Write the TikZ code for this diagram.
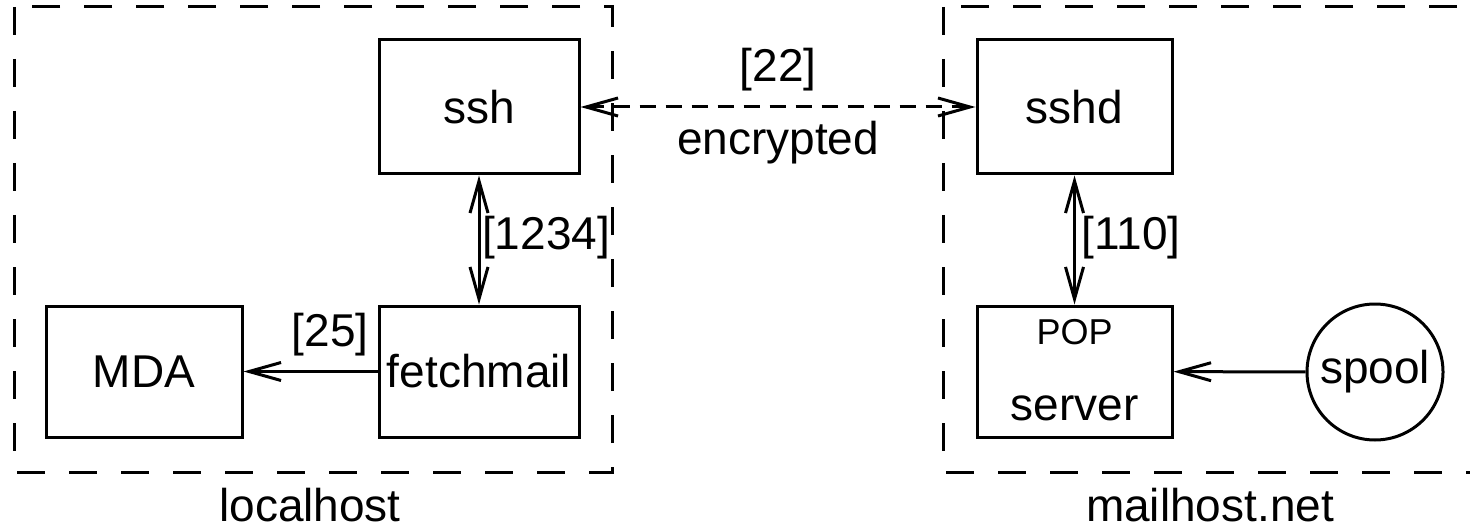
\documentclass[tikz,border=0pt]{standalone}
\usepackage{fontspec}
\setmainfont{Liberation Sans}
\usetikzlibrary{arrows.meta}
\tikzset{
  tip/.tip={Straight Barb[length=16pt,width=9pt,line width=1.5pt]},
  box/.style={draw, line width=1.5pt, rectangle, inner sep=0pt, font=\fontsize{23}{27}\selectfont},
  group/.style={draw, line width=1.5pt, dash pattern=on 14pt off 12pt},
  conn/.style={line width=1.5pt, tip-tip},
  conn1/.style={line width=1.5pt, -tip},
  lbl/.style={inner sep=0pt, font=\fontsize{23}{27}\selectfont},
  small/.style={inner sep=0pt, font=\fontsize{18}{22}\selectfont},
}
\begin{document}
\begin{tikzpicture}[x=0.5pt,y=-0.5pt]
\useasboundingbox (0,0) rectangle (1470,529);
\clip (0,0) rectangle (1470,529);
% group frames
\draw[group] (14,7) rectangle (612,472);
\draw[group] (943,7) rectangle (1541,472);
% nodes
\node[box, minimum width=100pt, minimum height=67pt] (ssh) at (479,107) {ssh};
\node[box, minimum width=97.5pt, minimum height=67pt] (sshd) at (1074.5,107) {sshd};
\node[box, minimum width=100pt, minimum height=65.5pt] (fetch) at (479,371.5) {fetchmail};
\node[box, minimum width=98pt, minimum height=65.5pt] (mda) at (144,371.5) {MDA};
\node[box, minimum width=97.5pt, minimum height=65.5pt] (pop) at (1074.5,371.5) {};
\node[small] (poptxt) at (1074.5,332) {POP};
\node[lbl] (servertxt) at (1074.5,408) {server};
\node[box, circle, minimum size=68pt] (spool) at (1375,372) {spool};
% connectors
\draw[conn, dash pattern=on 8pt off 5pt] (ssh) -- (sshd);
\draw[conn] (ssh) -- (fetch);
\draw[conn] (sshd) -- (pop);
\draw[conn1] (fetch) -- (mda);
\draw[conn1] (spool) -- (pop);
% labels
\node[lbl] (l22) at (778,70) {[22]};
\node[lbl] (lenc) at (778,143) {encrypted};
\node[lbl] (l1234) at (546,238) {[1234]};
\node[lbl] (l110) at (1131,238) {[110]};
\node[lbl] (l25) at (330,335) {[25]};
\node[lbl] (lloc) at (310,505) {localhost};
\node[lbl] (lmail) at (1210,505) {mailhost.net};
\end{tikzpicture}
\end{document}
